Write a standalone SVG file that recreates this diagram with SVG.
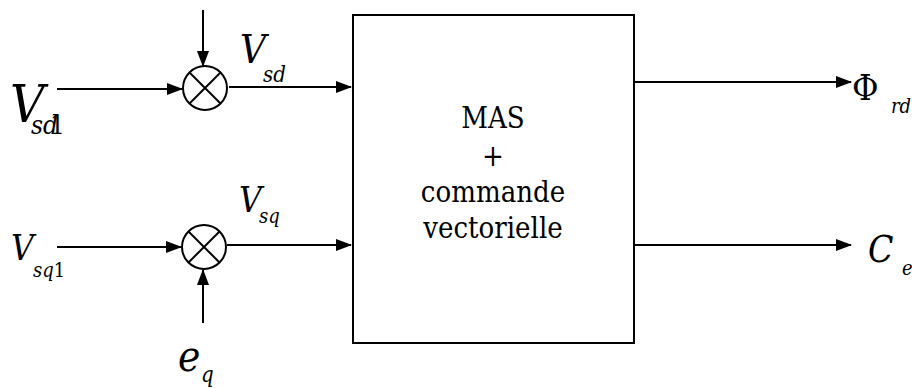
<svg xmlns="http://www.w3.org/2000/svg" width="912" height="388" viewBox="0 0 912 388">
<style>
.ln{stroke:#000;stroke-width:2;fill:none}
.t{font-family:"DejaVu Serif Condensed","DejaVu Serif",serif;fill:#000}
.i{font-style:italic}
.c{text-anchor:middle;font-size:29px}
</style>
<defs>
<marker id="ah" markerWidth="16" markerHeight="12" refX="15" refY="6" orient="auto" markerUnits="userSpaceOnUse">
<path d="M0,0 L16,6 L0,12 Z" fill="#000"/>
</marker>
</defs>
<g id="block">
<rect x="353" y="15" width="281" height="328" class="ln"/>
<text class="t c" x="493" y="128">MAS</text>
<text class="t c" x="493" y="166">+</text>
<text class="t c" x="493" y="202">commande</text>
<text class="t c" x="493" y="238">vectorielle</text>
</g>
<g id="sum1">
<circle cx="205" cy="88" r="22" class="ln" stroke-width="2.5"/>
<line x1="189.5" y1="72.5" x2="220.5" y2="103.5" class="ln" stroke-width="2.5"/>
<line x1="220.5" y1="72.5" x2="189.5" y2="103.5" class="ln" stroke-width="2.5"/>
</g>
<g id="sum2">
<circle cx="204" cy="247" r="22" class="ln" stroke-width="2.5"/>
<line x1="188.5" y1="231.5" x2="219.5" y2="262.5" class="ln" stroke-width="2.5"/>
<line x1="219.5" y1="231.5" x2="188.5" y2="262.5" class="ln" stroke-width="2.5"/>
</g>
<g id="labels">
<text class="t i" x="10" y="122" font-size="53">V</text>
<text class="t" x="31" y="134" font-size="26"><tspan class="i">sd</tspan><tspan dx="-8">1</tspan></text>
<text class="t i" x="240" y="63" font-size="40">V</text>
<text class="t i" x="263" y="82" font-size="22">sd</text>
<text class="t i" x="11" y="260" font-size="35">V</text>
<text class="t" x="33" y="277" font-size="20"><tspan class="i">sq</tspan>1</text>
<text class="t i" x="239" y="212" font-size="35">V</text>
<text class="t i" x="259" y="223" font-size="20">sq</text>
<text class="t i" x="178" y="371" font-size="42">e</text>
<text class="t i" x="201" y="382" font-size="22">q</text>
<text class="t" x="852" y="100" font-size="36">Φ</text>
<text class="t i" x="891" y="113" font-size="20">rd</text>
<text class="t i" x="868" y="262" font-size="37">C</text>
<text class="t i" x="902" y="275" font-size="20">e</text>
</g>
<g id="connectors">
<line x1="57" y1="89" x2="182" y2="89" class="ln" marker-end="url(#ah)"/>
<line x1="203" y1="10" x2="203" y2="66" class="ln" marker-end="url(#ah)"/>
<line x1="229" y1="87" x2="351" y2="87" class="ln" marker-end="url(#ah)"/>
<line x1="57" y1="247" x2="181" y2="247" class="ln" marker-end="url(#ah)"/>
<line x1="203" y1="323" x2="203" y2="270" class="ln" marker-end="url(#ah)"/>
<line x1="227" y1="245" x2="351" y2="245" class="ln" marker-end="url(#ah)"/>
<line x1="634" y1="82" x2="851" y2="82" class="ln" marker-end="url(#ah)"/>
<line x1="634" y1="245" x2="851" y2="245" class="ln" marker-end="url(#ah)"/>
</g>
</svg>
